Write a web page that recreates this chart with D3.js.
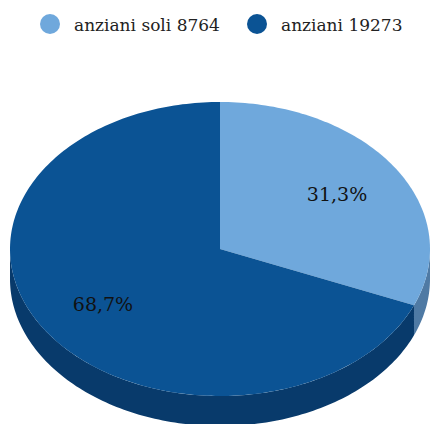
<!DOCTYPE html>
<meta charset="utf-8">
<head>
    <title>Anziani</title>
    <script src="https://d3js.org/d3.v7.min.js"></script>
</head>
<style type="text/css">
body{
    margin: 0;
    background: #FFFFFF;
}
text{
    font-family: "DejaVu Serif", Georgia, serif;
}
</style>
<body>
    <svg id="chart" width="430" height="424"></svg>

    <script type="text/javascript">
        // data
        var categories = ["anziani soli", "anziani"];
        var values = [8764, 19273];
        var colors = ["#6fa8dc", "#0b5394"];
        var sideColors = ["#4f7aa4", "#083a6b"];

        var svg = d3.select("#chart");
        var cx = 220, cy = 249, rx = 210, ry = 147, depth = 30;

        var pie = d3.pie().sort(null).value(function(d) { return d; });
        var arcs = pie(values);
        var total = d3.sum(values);
        var fmt = function(v) { return d3.format(".1f")(v * 100).replace(".", ",") + "%"; };

        // angle measured clockwise from 12 o'clock
        function px(a) { return cx + rx * Math.sin(a); }
        function py(a) { return cy - ry * Math.cos(a); }

        function arcPoints(a0, a1) {
            var n = Math.max(2, Math.ceil((a1 - a0) / 0.02));
            return d3.range(n + 1).map(function(i) {
                var a = a0 + (a1 - a0) * i / n;
                return [px(a), py(a)];
            });
        }
        var line = d3.line();

        // side walls (only the front half, PI/2 .. 3PI/2)
        arcs.forEach(function(d, i) {
            var a0 = Math.max(d.startAngle, Math.PI / 2),
                a1 = Math.min(d.endAngle, Math.PI * 1.5);
            if (a1 <= a0) return;
            var top = arcPoints(a0, a1);
            var bottom = top.map(function(p) { return [p[0], p[1] + depth]; }).reverse();
            svg.append("path")
                .attr("d", line(top.concat(bottom)) + "Z")
                .attr("fill", sideColors[i]);
        });

        // top faces
        arcs.forEach(function(d, i) {
            var pts = [[cx, cy]].concat(arcPoints(d.startAngle, d.endAngle));
            svg.append("path")
                .attr("d", line(pts) + "Z")
                .attr("fill", colors[i]);
        });

        // labels
        arcs.forEach(function(d, i) {
            var m = (d.startAngle + d.endAngle) / 2;
            svg.append("text")
                .attr("x", cx + rx * 0.67 * Math.sin(m))
                .attr("y", cy - ry * 0.67 * Math.cos(m))
                .attr("text-anchor", "middle")
                .attr("dominant-baseline", "central")
                .style("font-size", "19px")
                .attr("fill", "#111111")
                .text(fmt(d.value / total));
        });

        // legend
        var legendX = [50, 257];
        categories.forEach(function(c, i) {
            svg.append("circle")
                .attr("cx", legendX[i])
                .attr("cy", 24)
                .attr("r", 10)
                .attr("fill", colors[i]);
            svg.append("text")
                .attr("x", legendX[i] + 24)
                .attr("y", 31)
                .style("font-size", "17px")
                .attr("fill", "#222222")
                .text(c + " " + values[i]);
        });
    </script>
</body>
